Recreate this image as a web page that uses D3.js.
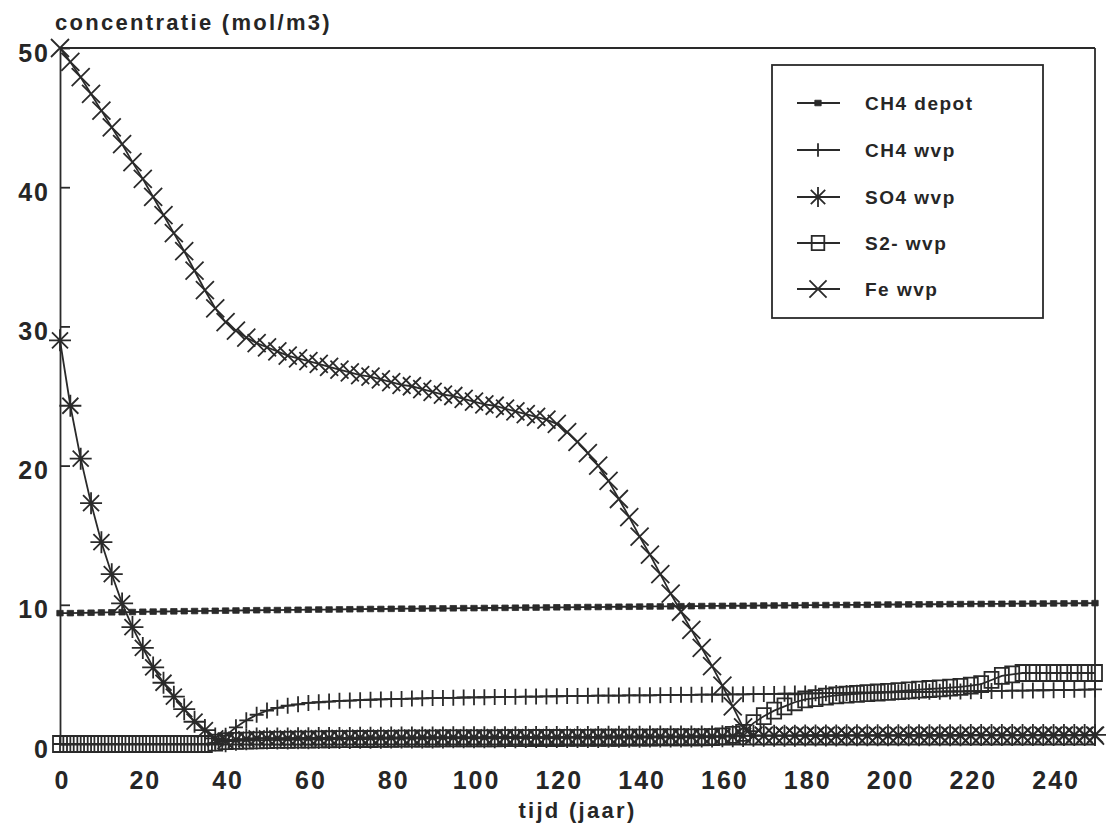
<!DOCTYPE html>
<html>
<head>
<meta charset="utf-8">
<script src="https://cdn.jsdelivr.net/npm/d3@7"></script>
<style>
  html, body { margin: 0; padding: 0; background: #ffffff; }
  svg { display: block; }
  text { font-family: "Liberation Sans", Arial, Helvetica, sans-serif; font-weight: bold; fill: #262626; }
</style>
</head>
<body>
<svg id="chart" width="1109" height="825"></svg>
<script>
// Time grid (years)
const years = [
  0, 2.5, 5, 7.5, 10, 12.5, 15, 17.5, 20, 22.5, 25,
  27.5, 30, 32.5, 35, 37.5, 40, 42.5, 45, 47.5, 50,
  52.5, 55, 57.5, 60, 62.5, 65, 67.5, 70, 72.5, 75,
  77.5, 80, 82.5, 85, 87.5, 90, 92.5, 95, 97.5, 100,
  102.5, 105, 107.5, 110, 112.5, 115, 117.5, 120, 122.5, 125,
  127.5, 130, 132.5, 135, 137.5, 140, 142.5, 145, 147.5, 150,
  152.5, 155, 157.5, 160, 162.5, 165, 167.5, 170, 172.5, 175,
  177.5, 180, 182.5, 185, 187.5, 190, 192.5, 195, 197.5, 200,
  202.5, 205, 207.5, 210, 212.5, 215, 217.5, 220, 222.5, 225,
  227.5, 230, 232.5, 235, 237.5, 240, 242.5, 245, 247.5, 250
];

// Concentrations (mol/m3)
const ch4Depot = [
  9.40, 9.40, 9.42, 9.43, 9.45, 9.46, 9.47, 9.48, 9.50, 9.51, 9.52,
  9.53, 9.54, 9.55, 9.56, 9.57, 9.58, 9.59, 9.60, 9.61, 9.62,
  9.62, 9.63, 9.64, 9.65, 9.66, 9.66, 9.67, 9.68, 9.69, 9.70,
  9.70, 9.71, 9.72, 9.72, 9.73, 9.74, 9.74, 9.75, 9.76, 9.76,
  9.77, 9.78, 9.78, 9.79, 9.80, 9.80, 9.81, 9.82, 9.82, 9.83,
  9.84, 9.84, 9.85, 9.86, 9.86, 9.87, 9.88, 9.88, 9.89, 9.90,
  9.90, 9.91, 9.92, 9.92, 9.93, 9.93, 9.94, 9.95, 9.95, 9.96,
  9.96, 9.97, 9.98, 9.98, 9.99, 9.99, 10.00, 10.00, 10.01, 10.02,
  10.02, 10.03, 10.03, 10.04, 10.04, 10.05, 10.05, 10.06, 10.06, 10.07,
  10.07, 10.08, 10.08, 10.09, 10.09, 10.10, 10.10, 10.11, 10.11, 10.12
];

const ch4Wvp = [
  0, 0, 0, 0, 0, 0, 0, 0, 0, 0, 0,
  0, 0, 0, 0, 0.05, 0.6, 1.2, 1.7, 2.1, 2.4,
  2.6, 2.75, 2.85, 2.95, 3.0, 3.05, 3.1, 3.12, 3.15, 3.18,
  3.2, 3.22, 3.24, 3.26, 3.28, 3.3, 3.31, 3.32, 3.34, 3.35,
  3.36, 3.37, 3.38, 3.39, 3.4, 3.41, 3.42, 3.43, 3.44, 3.45,
  3.46, 3.47, 3.48, 3.48, 3.49, 3.5, 3.5, 3.51, 3.52, 3.53,
  3.53, 3.54, 3.55, 3.55, 3.56, 3.57, 3.58, 3.59, 3.6, 3.61,
  3.62, 3.63, 3.64, 3.65, 3.66, 3.67, 3.68, 3.69, 3.7, 3.71,
  3.72, 3.73, 3.74, 3.75, 3.76, 3.77, 3.78, 3.79, 3.8, 3.81,
  3.82, 3.83, 3.84, 3.85, 3.86, 3.87, 3.88, 3.89, 3.9, 3.92
];

const so4Wvp = [
  29.0, 24.3, 20.5, 17.3, 14.5, 12.2, 10.1, 8.4, 6.9, 5.5, 4.4,
  3.4, 2.5, 1.6, 1.0, 0.4, 0.2, 0.3, 0.35, 0.4, 0.4,
  0.4, 0.4, 0.42, 0.42, 0.43, 0.43, 0.44, 0.44, 0.45, 0.45,
  0.45, 0.46, 0.46, 0.46, 0.47, 0.47, 0.47, 0.48, 0.48, 0.48,
  0.48, 0.49, 0.49, 0.49, 0.5, 0.5, 0.5, 0.5, 0.51, 0.51,
  0.51, 0.51, 0.52, 0.52, 0.52, 0.52, 0.53, 0.53, 0.53, 0.53,
  0.54, 0.54, 0.54, 0.55, 0.55, 0.58, 0.6, 0.6, 0.6, 0.6,
  0.6, 0.61, 0.61, 0.61, 0.61, 0.62, 0.62, 0.62, 0.62, 0.62,
  0.62, 0.63, 0.63, 0.63, 0.63, 0.63, 0.63, 0.64, 0.64, 0.64,
  0.64, 0.64, 0.64, 0.64, 0.65, 0.65, 0.65, 0.65, 0.65, 0.65
];

const s2Wvp = [
  0, 0, 0, 0, 0, 0, 0, 0, 0, 0, 0,
  0, 0, 0, 0, 0.1, 0.2, 0.22, 0.24, 0.26, 0.28,
  0.29, 0.3, 0.31, 0.32, 0.33, 0.34, 0.35, 0.35, 0.36, 0.36,
  0.37, 0.37, 0.38, 0.38, 0.39, 0.39, 0.4, 0.4, 0.4, 0.41,
  0.41, 0.41, 0.42, 0.42, 0.42, 0.43, 0.43, 0.43, 0.44, 0.44,
  0.44, 0.45, 0.45, 0.45, 0.46, 0.46, 0.46, 0.47, 0.47, 0.47,
  0.48, 0.48, 0.5, 0.55, 0.65, 0.8, 1.5, 2.0, 2.4, 2.7,
  3.0, 3.2, 3.3, 3.4, 3.5, 3.55, 3.6, 3.65, 3.7, 3.75,
  3.8, 3.85, 3.9, 3.95, 4.0, 4.05, 4.1, 4.2, 4.3, 4.6,
  4.9, 5.0, 5.1, 5.1, 5.1, 5.1, 5.1, 5.1, 5.1, 5.1
];

const feWvp = [
  50.0, 49.0, 47.9, 46.7, 45.5, 44.3, 43.1, 41.8, 40.6, 39.3, 38.0,
  36.7, 35.4, 34.0, 32.6, 31.3, 30.3, 29.7, 29.2, 28.8, 28.5,
  28.2, 27.9, 27.7, 27.5, 27.3, 27.1, 26.9, 26.7, 26.5, 26.4,
  26.2, 26.0, 25.8, 25.7, 25.5, 25.3, 25.1, 25.0, 24.8, 24.6,
  24.4, 24.3, 24.1, 23.9, 23.7, 23.5, 23.3, 23.0, 22.4, 21.7,
  20.9, 20.0, 18.9, 17.6, 16.3, 14.9, 13.6, 12.2, 10.8, 9.5,
  8.2, 6.9, 5.6, 4.2, 2.7, 1.2, 0.6, 0.6, 0.6, 0.6,
  0.6, 0.6, 0.6, 0.6, 0.6, 0.6, 0.6, 0.6, 0.6, 0.6,
  0.6, 0.6, 0.6, 0.6, 0.6, 0.6, 0.6, 0.6, 0.6, 0.6,
  0.6, 0.6, 0.6, 0.6, 0.6, 0.6, 0.6, 0.6, 0.6, 0.6
];

const seriesNames = ["CH4 depot", "CH4 wvp", "SO4 wvp", "S2- wvp", "Fe wvp"];
const seriesMarkers = ["dot", "plus", "star", "square", "cross"];
const xTicks = [0, 20, 40, 60, 80, 100, 120, 140, 160, 180, 200, 220, 240];
const yTicks = [0, 10, 20, 30, 40, 50];
const yTitle = "concentratie (mol/m3)";
const xTitle = "tijd (jaar)";

const ink = "#2a2a2a";
const svg = d3.select("#chart");

const margin = { left: 60, right: 14, top: 48, bottom: 81 };
const W = 1109, H = 825;
const x = d3.scaleLinear().domain([0, 250]).range([margin.left, W - margin.right]);
const y = d3.scaleLinear().domain([0, 50]).range([H - margin.bottom, margin.top]);

// Marker shapes, centred on (cx, cy)
function markerPath(kind, cx, cy, s) {
  const p = d3.path();
  if (kind === "dot") {
    p.rect(cx - 3.2 * s, cy - 2.8 * s, 6.4 * s, 5.6 * s);
  } else if (kind === "plus") {
    const rx = 7 * s, ry = 8 * s;
    p.moveTo(cx - rx, cy); p.lineTo(cx + rx, cy);
    p.moveTo(cx, cy - ry); p.lineTo(cx, cy + ry);
  } else if (kind === "star") {
    const r = 11 * s, d = 8 * s;
    p.moveTo(cx - r, cy); p.lineTo(cx + r, cy);
    p.moveTo(cx, cy - r); p.lineTo(cx, cy + r);
    p.moveTo(cx - d, cy - d); p.lineTo(cx + d, cy + d);
    p.moveTo(cx - d, cy + d); p.lineTo(cx + d, cy - d);
  } else if (kind === "square") {
    p.rect(cx - 7 * s, cy - 8 * s, 14 * s, 16 * s);
  } else if (kind === "cross") {
    const d = 9 * s;
    p.moveTo(cx - d, cy - d); p.lineTo(cx + d, cy + d);
    p.moveTo(cx - d, cy + d); p.lineTo(cx + d, cy - d);
  }
  return p.toString();
}

// Frame: top and right edges
svg.append("line")
  .attr("x1", x(0)).attr("x2", x(250)).attr("y1", y(50)).attr("y2", y(50))
  .attr("stroke", ink).attr("stroke-width", 1.8);
svg.append("line")
  .attr("x1", x(250)).attr("x2", x(250)).attr("y1", y(50)).attr("y2", y(0))
  .attr("stroke", ink).attr("stroke-width", 1.8);

// Left axis with inward ticks
const yAxis = svg.append("g")
  .attr("transform", `translate(${margin.left},0)`)
  .call(d3.axisLeft(y).tickValues(yTicks).tickSizeInner(-10).tickSizeOuter(0).tickPadding(10));
yAxis.select(".domain").attr("stroke", ink).attr("stroke-width", 1.8);
yAxis.selectAll(".tick line").attr("stroke", ink).attr("stroke-width", 1.8);
yAxis.selectAll(".tick text")
  .attr("font-size", 25).attr("letter-spacing", 2).attr("dy", "0.52em")
  .attr("font-family", null).attr("fill", "#262626");

// Bottom axis
const xAxis = svg.append("g")
  .attr("transform", `translate(0,${y(0)})`)
  .call(d3.axisBottom(x).tickValues(xTicks).tickSize(0).tickPadding(27));
xAxis.select(".domain").attr("stroke", ink).attr("stroke-width", 1.8);
xAxis.selectAll(".tick text")
  .attr("font-size", 25).attr("letter-spacing", 2).attr("dx", "0.08em")
  .attr("font-family", null).attr("fill", "#262626");

// Axis titles
svg.append("text")
  .attr("x", 55).attr("y", 30)
  .attr("font-size", 22).attr("letter-spacing", 2.3)
  .text(yTitle);
svg.append("text")
  .attr("x", x(125)).attr("y", 818)
  .attr("text-anchor", "middle")
  .attr("font-size", 22).attr("letter-spacing", 2.3)
  .text(xTitle);

// Series
const seriesValues = [ch4Depot, ch4Wvp, so4Wvp, s2Wvp, feWvp];
const line = d3.line().x(d => x(d[0])).y(d => y(d[1]));

seriesValues.forEach((vals, i) => {
  const pts = years.map((t, j) => [t, vals[j]]);
  const g = svg.append("g").attr("class", "series");
  g.append("path")
    .attr("d", line(pts))
    .attr("fill", "none").attr("stroke", ink).attr("stroke-width", 1.8);
  const kind = seriesMarkers[i];
  g.selectAll("path.marker")
    .data(pts)
    .join("path")
    .attr("class", "marker")
    .attr("d", d => markerPath(kind, x(d[0]), y(d[1]), 1))
    .attr("fill", kind === "dot" ? ink : "none")
    .attr("stroke", ink)
    .attr("stroke-width", kind === "dot" ? 0.8 : 1.8);
});

// Legend
const legend = svg.append("g");
legend.append("rect")
  .attr("x", 772).attr("y", 65).attr("width", 271).attr("height", 253)
  .attr("fill", "#ffffff").attr("stroke", ink).attr("stroke-width", 1.8);
const legendRows = [103, 150, 197, 243, 289];
const legendScale = { dot: 1, plus: 0.85, star: 0.9, square: 0.9, cross: 0.95 };
seriesNames.forEach((name, i) => {
  const ly = legendRows[i];
  legend.append("line")
    .attr("x1", 797).attr("x2", 840).attr("y1", ly).attr("y2", ly)
    .attr("stroke", ink).attr("stroke-width", 1.8);
  const kind = seriesMarkers[i];
  legend.append("path")
    .attr("d", markerPath(kind, 818, ly, legendScale[kind]))
    .attr("fill", kind === "dot" ? ink : "none")
    .attr("stroke", ink).attr("stroke-width", kind === "dot" ? 0.8 : 1.8);
  legend.append("text")
    .attr("x", 865).attr("y", ly + 7)
    .attr("font-size", 19).attr("letter-spacing", 1.5)
    .text(name);
});
</script>
</body>
</html>
